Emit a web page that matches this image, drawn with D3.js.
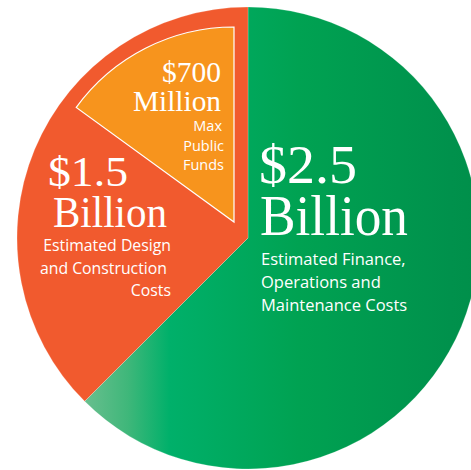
<!DOCTYPE html>
<html>
<head>
<meta charset="utf-8">
<script src="https://cdn.jsdelivr.net/npm/d3@7"></script>
<style>
  body { margin: 0; background: #fff; }
  svg { display: block; }
</style>
</head>
<body>
<svg></svg>
<script>
// cost categories, in $ millions
const categories = ["Finance, Operations and Maintenance", "Design and Construction"];
const amounts = [2500, 1500];
const bigLabels = ["$2.5", "$1.5"];
const unitLabels = ["Billion", "Billion"];
const subLabels = [
  ["Estimated Finance,", "Operations and", "Maintenance Costs"],
  ["Estimated Design", "and Construction", "Costs"]
];

// public funds wedge inside the design slice
const publicFunds = 700;
const publicLabels = ["$700", "Million"];
const publicSubLabels = ["Max", "Public", "Funds"];
// share of the design slice the wedge covers, as drawn: [rest, public funds]
const designSplit = [0.6, 0.4];

const w = 471;
const h = 470;
const cx = 248, cy = 238;
const radius = 231;

const colors = ["url(#greenGrad)", "#f15a2e"];

const svg = d3.select("svg")
    .attr("width", w)
    .attr("height", h);

// green gradient, lighter at the lower left
const grad = svg.append("defs").append("linearGradient")
    .attr("id", "greenGrad")
    .attr("gradientUnits", "userSpaceOnUse")
    .attr("x1", -radius).attr("y1", 0)
    .attr("x2", radius).attr("y2", 0);
[[0, "#7cc69a"], [0.143, "#6abf8f"], [0.24, "#3fb77a"], [0.33, "#00b06a"],
 [0.61, "#00a252"], [0.94, "#00914c"], [1, "#008f4a"]]
  .forEach(s => grad.append("stop").attr("offset", s[0]).attr("stop-color", s[1]));

const g = svg.append("g").attr("transform", `translate(${cx},${cy})`);

let pie = d3.pie().sort(null);
let arcs = pie(amounts);

let arc = d3.arc().innerRadius(0).outerRadius(radius);

g.selectAll("path.slice")
  .data(arcs)
  .enter()
  .append("path")
  .attr("class", "slice")
  .attr("d", arc)
  .attr("fill", (d, i) => colors[i])
  .attr("stroke", "rgba(255,255,255,0.35)")
  .attr("stroke-width", 0.6);

// sub wedge sits at the end of the design slice, inset from its edges
let design = arcs[1];
let subPie = d3.pie().sort(null)
    .startAngle(design.startAngle)
    .endAngle(design.endAngle);
let subArcs = subPie(designSplit);

let subArc = d3.arc().innerRadius(0).outerRadius(195);

g.append("g")
  .attr("transform", "translate(-14,-16)")
  .append("path")
  .datum(subArcs[1])
  .attr("d", subArc)
  .attr("fill", "#f7941d")
  .attr("stroke", "#fff")
  .attr("stroke-width", 1.2)
  .attr("stroke-linejoin", "miter");

const serif = "'Liberation Serif', 'Times New Roman', serif";
const sans = "'Open Sans', 'Noto Sans', sans-serif";

function serifText(txt, x, y, size, len, anchor) {
  svg.append("text")
    .attr("x", x).attr("y", y)
    .attr("text-anchor", anchor || "start")
    .attr("font-family", serif)
    .attr("font-size", size)
    .attr("textLength", len)
    .attr("lengthAdjust", "spacingAndGlyphs")
    .attr("fill", "#fff")
    .text(txt);
}

function sansLines(lines, x, y0, step, size, anchor) {
  lines.forEach((t, i) => {
    svg.append("text")
      .attr("x", Array.isArray(x) ? x[i] : x)
      .attr("y", y0 + i * step)
      .attr("text-anchor", anchor)
      .attr("font-family", sans)
      .attr("font-size", size)
      .attr("fill", "#fff")
      .text(t);
  });
}

// green slice labels
serifText(bigLabels[0], 259, 183, 54, 98);
serifText(unitLabels[0], 260, 235, 56, 148);
sansLines(subLabels[0], 261, 265, 23, 16.5, "start");

// design slice labels
serifText(bigLabels[1], 48, 186, 43, 80);
serifText(unitLabels[1], 53, 227, 45, 114);
sansLines(subLabels[1], [171, 167, 171], 251, 22.5, 15.8, "end");

// public funds labels
serifText(publicLabels[0], 221, 82, 29, 59, "end");
serifText(publicLabels[1], 221, 111, 29, 88, "end");
sansLines(publicSubLabels, [222, 224, 224], 131, 19.7, 14.5, "end");
</script>
</body>
</html>
